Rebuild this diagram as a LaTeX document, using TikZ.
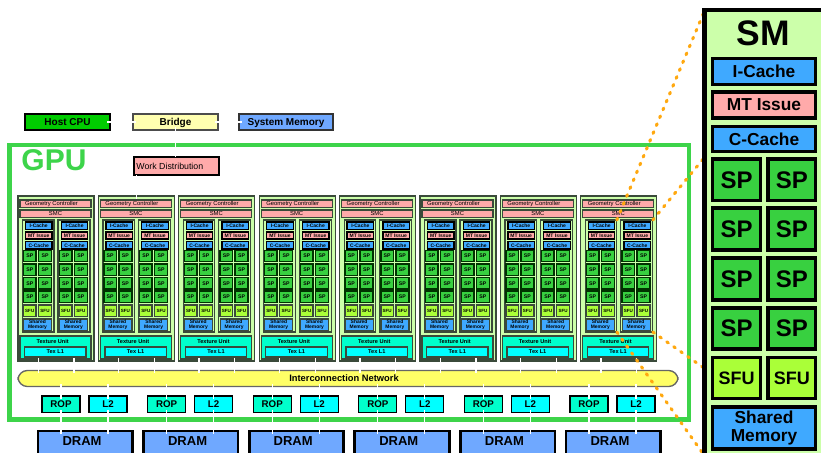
\documentclass[tikz,border=0pt]{standalone}
\usepackage{fontspec}
\setmainfont{Liberation Sans}
\usetikzlibrary{calc}
\definecolor{gpugreen}{HTML}{3DD44A}
\definecolor{clusterfill}{HTML}{CCFFAA}
\definecolor{pinkfill}{HTML}{FFAAAA}
\definecolor{bluefill}{HTML}{3FA9FF}
\definecolor{spfill}{HTML}{38D040}
\definecolor{sfufill}{HTML}{AAFF38}
\definecolor{tealfill}{HTML}{00FFCC}
\definecolor{cyanfill}{HTML}{00FFFF}
\definecolor{memfill}{HTML}{6FA8FF}
\definecolor{bridgefill}{HTML}{FFFFB0}
\definecolor{icfill}{HTML}{FFFF66}
\definecolor{hostfill}{HTML}{00CC00}
\definecolor{dotorange}{HTML}{FFA80F}
\definecolor{edgegray}{HTML}{3A4A3A}
\newcommand{\bx}[7]{%
  \pgfmathsetmacro{\bw}{(#4-#2)*0.75}%
  \pgfmathsetmacro{\bh}{(#5-#3)*0.75}%
  \node[inner sep=0pt,outer sep=0pt,align=center,minimum width=\bw pt,minimum height=\bh pt,#6]
    (#1) at ({(#2+#4)/2},{(#3+#5)/2}) {#7};}
\tikzset{
  x=0.75pt,y=-0.75pt,
  wire/.style={draw=white,line width=1pt,shorten <=-2pt,shorten >=-2pt},
  dotline/.style={draw=dotorange,line width=2.3pt,line cap=round,dash pattern=on 1.4pt off 5pt},
  topbox/.style={draw=black,line width=1.2pt,text depth=0pt,font=\fontsize{7.5}{8}\selectfont\bfseries},
  clusterbox/.style={draw=edgegray,line width=1pt,fill=clusterfill},
  colbox/.style={draw=edgegray,line width=0.9pt,fill=clusterfill},
  pinkbar/.style={draw=edgegray,line width=0.9pt,fill=pinkfill,text depth=0pt,font=\fontsize{4.4}{5}\selectfont},
  tiny/.style={draw=black,line width=1pt,text depth=0pt,font=\fontsize{3.75}{4}\selectfont\bfseries},
  tinysp/.style={draw=black!80!green,line width=1.1pt,fill=spfill,text depth=0pt,font=\fontsize{3.9}{4}\selectfont\bfseries},
  tinysfu/.style={draw=edgegray,line width=1.1pt,fill=sfufill,text depth=0pt,font=\fontsize{3.4}{4}\selectfont\bfseries},
  tinymem/.style={draw=edgegray,line width=0.9pt,fill=bluefill,font=\fontsize{3.7}{3.9}\selectfont\bfseries},
  texunit/.style={draw=edgegray,line width=0.9pt,fill=tealfill},
  texl/.style={draw=edgegray,line width=1pt,fill=cyanfill,text depth=0pt,font=\fontsize{4.2}{5}\selectfont\bfseries},
  memunit/.style={draw=black,line width=1pt,text depth=0pt,font=\fontsize{7.3}{8}\selectfont\bfseries},
  dram/.style={draw=black,line width=2pt,fill=memfill,font=\fontsize{9.75}{10}\selectfont\bfseries},
  panelbox/.style={draw=black,line width=2.4pt,text depth=0pt,font=\fontsize{13}{13}\selectfont\bfseries},
}
\begin{document}
\begin{tikzpicture}
\useasboundingbox (0,0) rectangle (821,453);
\clip (0,0) rectangle (821,453);
% GPU frame
\node[draw=gpugreen,line width=3.6pt,inner sep=0pt,outer sep=0pt,minimum width=509.5pt,minimum height=206pt] (gpu) at (349.25,282.25) {};
\node[text=gpugreen,inner sep=0pt,font=\fontsize{22.5}{24}\selectfont\bfseries] (gpulabel) at (54,160.5) {GPU};
% top row
\bx{host}{25}{114}{110}{130}{topbox,fill=hostfill}{Host CPU}
\bx{bridge}{133}{114}{218}{130}{topbox,draw=black!70,fill=bridgefill}{Bridge}
\bx{sysmem}{239}{114}{333}{130}{topbox,draw=black!80,fill=memfill}{System Memory}
\bx{wd}{134}{157}{219}{175}{draw=black,line width=1.5pt,fill=pinkfill,text depth=0pt,font=\fontsize{6.6}{7}\selectfont}{Work Distribution\hspace*{10pt}}
% clusters
\foreach \c in {0,...,7}{
  \pgfmathsetmacro{\ox}{\c*80.4}
  \begin{scope}[shift={(\ox,0)}]
    \bx{cl\c}{18}{196}{94}{361}{clusterbox}{}
    \bx{geo\c}{20}{200}{91}{207.5}{pinkbar}{Geometry Controller\hspace*{6pt}}
    \bx{smc\c}{20}{210}{91}{217.5}{pinkbar}{SMC}
    \bx{smA\c}{22.5}{220}{54}{332}{colbox}{}
    \bx{smB\c}{58}{220}{90}{332}{colbox}{}
    \foreach \s/\d in {A/0,B/35.8}{
      \pgfmathsetmacro{\a}{25.5+\d}\pgfmathsetmacro{\b}{52+\d}
      \bx{ica\s\c}{\a}{222}{\b}{229.5}{tiny,fill=bluefill}{I-Cache}
      \bx{mti\s\c}{\a}{232}{\b}{239}{tiny,fill=pinkfill}{MT Issue}
      \bx{cca\s\c}{\a}{241.5}{\b}{249}{tiny,fill=bluefill}{C-Cache}
      \pgfmathsetmacro{\e}{23.5+\d}\pgfmathsetmacro{\f}{36+\d}
      \pgfmathsetmacro{\g}{38.5+\d}\pgfmathsetmacro{\h}{51.5+\d}
      \foreach \t/\u/\r in {250.5/261.5/1,264/275.5/2,277.5/289/3,291/302.5/4}{
        \bx{spa\s\r\c}{\e}{\t}{\f}{\u}{tinysp}{SP}
        \bx{spb\s\r\c}{\g}{\t}{\h}{\u}{tinysp}{SP}
      }
      \bx{sfa\s\c}{\e}{305}{\f}{316.5}{tinysfu}{SFU}
      \bx{sfb\s\c}{\g}{305}{\h}{316.5}{tinysfu}{SFU}
      \bx{shm\s\c}{\e}{319}{\h}{330.5}{tinymem}{Shared\\Memory}
    }
    \bx{tex\c}{20}{336}{91}{359}{texunit}{}
    \node[inner sep=0pt,font=\fontsize{4.2}{5}\selectfont\bfseries] (texlabel\c) at (52.7,341) {Texture Unit};
    \bx{texl\c}{24.5}{347}{86}{357}{texl}{Tex L1}
  \end{scope}
}
% interconnect
\bx{ic}{18}{370.5}{678}{386.5}{draw=gray!80!black,line width=1pt,fill=icfill,rounded corners=7pt,text depth=0pt,font=\fontsize{7}{8}\selectfont\bfseries}{Interconnection Network\hspace*{6pt}}
% memory partitions
\foreach \m in {0,...,5}{
  \pgfmathsetmacro{\ox}{\m*105.6}
  \begin{scope}[shift={(\ox,0)}]
    \bx{rop\m}{42}{396}{80}{412.5}{memunit,fill=tealfill}{ROP}
    \bx{ltwo\m}{89}{396}{127}{412.5}{memunit,fill=cyanfill}{L2}
    \bx{dr\m}{38}{431}{132.5}{460}{dram}{}
    \node[inner sep=0pt,font=\fontsize{9.75}{10}\selectfont\bfseries] (drl\m) at (82,441.5) {DRAM};
  \end{scope}
}
% white connectors
\draw[wire] (host.east) -- (bridge.west);
\draw[wire] (bridge.east) -- (sysmem.west);
\draw[wire,shorten >=0pt] (bridge.south) -- (bridge.south |- wd.north);
\draw[wire,shorten <=0pt] (cl1.north |- wd.south) -- (cl1.north);
\foreach \c in {0,...,7}{
  \draw[wire] (smA\c.center |- cl\c.south) -- (smA\c.center |- ic.north);
  \draw[wire] (smB\c.center |- cl\c.south) -- (smB\c.center |- ic.north);
}
\foreach \m in {0,...,5}{
  \draw[wire] (rop\m.north |- ic.south) -- (rop\m.north);
  \draw[wire] (ltwo\m.north |- ic.south) -- (ltwo\m.north);
  \draw[wire] (rop\m.south) -- (rop\m.south |- dr\m.north);
  \draw[wire] (ltwo\m.south) -- (ltwo\m.south |- dr\m.north);
}
% orange dotted lines
\coordinate (zoomA) at (704,12);
\coordinate (zoomB) at (704,158);
\coordinate (zoomC) at (704,455);
\coordinate (zoomD) at (704,368);
\draw[dotline] (smA7.north east) -- (zoomA);
\draw[dotline] (smB7.north east) -- (zoomB);
\draw[dotline] (smA7.south east) -- (zoomC);
\draw[dotline] (smB7.south east) -- (zoomD);
% SM panel
\node[draw=black,line width=3.6pt,fill=clusterfill,inner sep=0pt,outer sep=0pt,minimum width=92pt,minimum height=380pt,anchor=north west] (panel) at (704.5,10) {};
\node[inner sep=0pt,font=\fontsize{26.6}{28}\selectfont\bfseries] (panellabel) at (763.5,33.5) {SM};
\bx{pic}{712.5}{58.5}{815.5}{84.5}{panelbox,fill=bluefill}{I-Cache}
\bx{pmt}{712.5}{92}{815.5}{118}{panelbox,fill=pinkfill}{MT Issue}
\bx{pcc}{712.5}{126.5}{815.5}{151.5}{panelbox,fill=bluefill}{C-Cache}
\foreach \t/\u/\r in {159/200.5/1,208/250/2,258/300/3,308/349/4}{
  \bx{pspa\r}{712.5}{\t}{760.5}{\u}{panelbox,fill=spfill,font=\fontsize{18}{18}\selectfont\bfseries}{SP}
  \bx{pspb\r}{768}{\t}{815.5}{\u}{panelbox,fill=spfill,font=\fontsize{18}{18}\selectfont\bfseries}{SP}
}
\bx{psfa}{712.5}{357.5}{760.5}{398.5}{panelbox,fill=sfufill,font=\fontsize{13.5}{14}\selectfont\bfseries}{SFU}
\bx{psfb}{768}{357.5}{815.5}{398.5}{panelbox,fill=sfufill,font=\fontsize{13.5}{14}\selectfont\bfseries}{SFU}
\bx{psh}{712.5}{407}{815.5}{449}{draw=black,line width=2.4pt,align=center,fill=bluefill,font=\fontsize{13}{13}\selectfont\bfseries}{Shared\\Memory}
\end{tikzpicture}
\end{document}
